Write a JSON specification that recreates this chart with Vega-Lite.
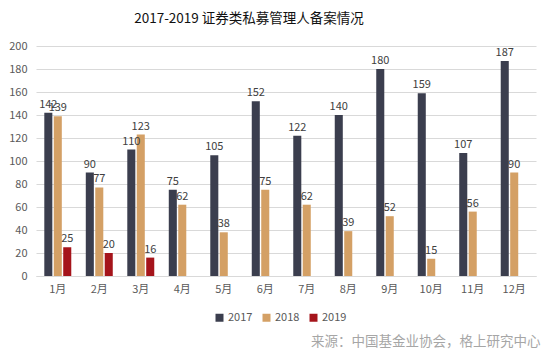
{
  "$schema": "https://vega.github.io/schema/vega-lite/v6.json",
  "width": 500,
  "height": 230,
  "autosize": {"type": "none"},
  "padding": {"left": 36, "top": 46, "right": 14, "bottom": 84},
  "background": "white",
  "title": {"text": "2017-2019 证券类私募管理人备案情况", "fontSize": 13.5, "font": "Noto Sans CJK SC", "fontWeight": "normal", "color": "#111111", "anchor": "middle", "dx": -37, "offset": 15},
  "config": {"view": {"stroke": null}, "font": "Noto Sans CJK SC"},
  "data": {"values": [
    {"month": "1月", "year": "2017", "value": 142}, {"month": "1月", "year": "2018", "value": 139}, {"month": "1月", "year": "2019", "value": 25},
    {"month": "2月", "year": "2017", "value": 90}, {"month": "2月", "year": "2018", "value": 77}, {"month": "2月", "year": "2019", "value": 20},
    {"month": "3月", "year": "2017", "value": 110}, {"month": "3月", "year": "2018", "value": 123}, {"month": "3月", "year": "2019", "value": 16},
    {"month": "4月", "year": "2017", "value": 75}, {"month": "4月", "year": "2018", "value": 62},
    {"month": "5月", "year": "2017", "value": 105}, {"month": "5月", "year": "2018", "value": 38},
    {"month": "6月", "year": "2017", "value": 152}, {"month": "6月", "year": "2018", "value": 75},
    {"month": "7月", "year": "2017", "value": 122}, {"month": "7月", "year": "2018", "value": 62},
    {"month": "8月", "year": "2017", "value": 140}, {"month": "8月", "year": "2018", "value": 39},
    {"month": "9月", "year": "2017", "value": 180}, {"month": "9月", "year": "2018", "value": 52},
    {"month": "10月", "year": "2017", "value": 159}, {"month": "10月", "year": "2018", "value": 15},
    {"month": "11月", "year": "2017", "value": 107}, {"month": "11月", "year": "2018", "value": 56},
    {"month": "12月", "year": "2017", "value": 187}, {"month": "12月", "year": "2018", "value": 90}
  ]},
  "encoding": {
    "x": {
      "field": "month", "type": "nominal",
      "sort": ["1月","2月","3月","4月","5月","6月","7月","8月","9月","10月","11月","12月"],
      "scale": {"paddingInner": 0.35, "paddingOuter": 0.2},
      "axis": {
        "labelAngle": 0, "labelFontSize": 11, "labelColor": "#595959", "ticks": false,
        "domainColor": "#d9d9d9", "labelPadding": 7,
        "title": "来源：中国基金业协会，格上研究中心", "titleFontSize": 13.5, "titleColor": "#a6a6a6",
        "titleFontWeight": "normal", "titleAnchor": "end", "titleX": 504, "titleAlign": "right", "titlePadding": 40
      }
    },
    "xOffset": {"field": "year", "type": "nominal", "sort": ["2017","2018","2019"], "scale": {"domain": ["2017","2018","2019"], "paddingInner": 0.15}},
    "y": {
      "field": "value", "type": "quantitative",
      "scale": {"domain": [0, 200]},
      "axis": {"title": null, "values": [0,20,40,60,80,100,120,140,160,180,200], "grid": true, "gridColor": "#d9d9d9", "domain": false, "ticks": false, "labelFontSize": 11, "labelColor": "#595959", "labelPadding": 9}
    }
  },
  "layer": [
    {
      "mark": {"type": "bar"},
      "encoding": {
        "color": {
          "field": "year", "type": "nominal",
          "scale": {"domain": ["2017","2018","2019"], "range": ["#3b3e4e","#d4a065","#a5141b"]},
          "legend": {"title": null, "orient": "none", "legendX": 178, "legendY": 266, "direction": "horizontal", "symbolType": "square", "symbolSize": 64, "symbolStrokeWidth": 0, "labelFontSize": 11, "labelColor": "#595959", "columnPadding": 8, "labelOffset": 3}
        }
      }
    },
    {
      "mark": {"type": "text", "dy": -8, "fontSize": 11, "color": "#404040"},
      "encoding": {"text": {"field": "value", "type": "quantitative"}}
    }
  ]
}
